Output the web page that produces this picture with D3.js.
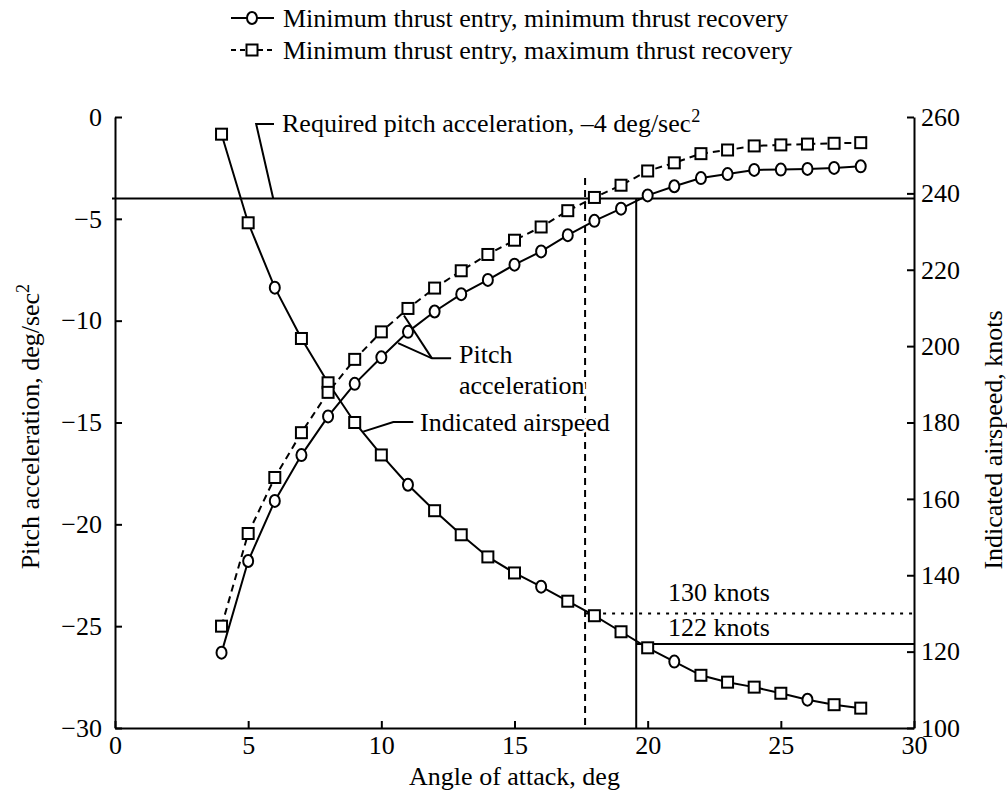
<!DOCTYPE html>
<html>
<head>
<meta charset="utf-8">
<script src="https://cdn.jsdelivr.net/npm/d3@7"></script>
<style>
  html, body { margin: 0; padding: 0; background: #fff; }
  svg { display: block; }
  text { font-family: "Liberation Serif", "Times New Roman", serif; fill: #000; }
  .knock { stroke: #fff; stroke-width: 5px; paint-order: stroke; stroke-linejoin: round; }
</style>
</head>
<body>
<svg id="chart" width="1007" height="801"></svg>
<script>
// ---------------- data ----------------
const angleOfAttack = [4,5,6,7,8,9,10,11,12,13,14,15,16,17,18,19,20,21,22,23,24,25,26,27,28];
// pitch acceleration, deg/sec^2 (left axis)
const pitchMinThrustRecovery = [-26.3,-21.8,-18.85,-16.6,-14.7,-13.1,-11.8,-10.55,-9.55,-8.7,-8.0,-7.25,-6.6,-5.8,-5.1,-4.5,-3.85,-3.4,-3.0,-2.8,-2.6,-2.58,-2.55,-2.5,-2.42];
const pitchMaxThrustRecovery = [-25.0,-20.45,-17.7,-15.5,-13.52,-11.9,-10.55,-9.4,-8.4,-7.55,-6.75,-6.05,-5.4,-4.6,-3.95,-3.35,-2.65,-2.25,-1.8,-1.62,-1.42,-1.37,-1.33,-1.29,-1.26];
// indicated airspeed, knots (right axis) - shared by both cases
const indicatedAirspeed = [255.5,232.3,215.3,202.0,190.4,180.0,171.5,163.7,156.9,150.6,144.8,140.6,137.0,133.2,129.4,125.2,121.0,117.4,113.8,112.0,110.7,109.1,107.4,106.1,105.2];
// which marker is visible on top for each airspeed point
const airspeedMarker = ["s","s","o","s","s","s","s","o","s","s","s","s","o","s","s","s","s","o","s","s","s","s","o","s","s"];

const xTicks = [0,5,10,15,20,25,30];
const leftTicks = [0,-5,-10,-15,-20,-25,-30];
const rightTicks = [260,240,220,200,180,160,140,120,100];

const seriesNames = ["Minimum thrust entry, minimum thrust recovery", "Minimum thrust entry, maximum thrust recovery"];

const requiredPitch = -4;
const aoaDashed = 17.65, aoaSolid = 19.57;
const knots130 = 130, knots122 = 122;

// ---------------- layout ----------------
const FS = 26;
const svg = d3.select("#chart");
const x = d3.scaleLinear().domain([0,30]).range([115,914]);
const yL = d3.scaleLinear().domain([-30,0]).range([728,117]);
const yR = d3.scaleLinear().domain([100,260]).range([728,117]);
const fmtMinus = d => d < 0 ? "\u2212" + Math.abs(d) : String(d);

// axes
const axB = d3.axisBottom(x).tickValues(xTicks).tickSizeInner(-7).tickSizeOuter(0).tickPadding(8);
const axL = d3.axisLeft(yL).tickValues(leftTicks).tickSizeInner(-7).tickSizeOuter(0).tickPadding(13).tickFormat(fmtMinus);
const axR = d3.axisRight(yR).tickValues(rightTicks).tickSizeInner(-7).tickSizeOuter(0).tickPadding(7);

function styleAxis(g) {
  g.attr("font-family", null);
  g.select(".domain").attr("stroke", "#000").attr("stroke-width", 2);
  g.selectAll(".tick line").attr("stroke", "#000").attr("stroke-width", 2);
  g.selectAll(".tick text").attr("font-size", FS).attr("fill", "#000");
}
svg.append("g").attr("transform", "translate(0,728)").call(axB).call(styleAxis);
svg.append("g").attr("transform", "translate(115,0)").call(axL).call(styleAxis);
svg.append("g").attr("transform", "translate(914,0)").call(axR).call(styleAxis);

// axis titles
svg.append("text").attr("x", x(15)).attr("y", 785).attr("text-anchor", "middle").attr("font-size", FS)
  .text("Angle of attack, deg");
const lt = svg.append("text").attr("transform", `translate(30,${yL(-15.2)}) rotate(-90)`).attr("dy", "0.35em")
  .attr("text-anchor", "middle").attr("font-size", FS);
lt.append("tspan").text("Pitch acceleration, deg/sec");
lt.append("tspan").attr("dy", -10).attr("font-size", FS*0.7).text("2");
svg.append("text").attr("transform", `translate(993,440) rotate(-90)`).attr("dy", "0.35em")
  .attr("text-anchor", "middle").attr("font-size", FS)
  .text("Indicated airspeed, knots");

// reference lines
const ref = svg.append("g").attr("stroke", "#000").attr("fill", "none");
ref.append("line").attr("x1", x(0) - 3).attr("x2", x(30)).attr("y1", yL(requiredPitch)).attr("y2", yL(requiredPitch)).attr("stroke-width", 2);
ref.append("line").attr("x1", x(aoaDashed)).attr("x2", x(aoaDashed)).attr("y1", yL(-3.0)).attr("y2", yL(-30)).attr("stroke-width", 2).attr("stroke-dasharray", "7,5");
ref.append("line").attr("x1", x(aoaSolid)).attr("x2", x(aoaSolid)).attr("y1", yL(requiredPitch)).attr("y2", yL(-30)).attr("stroke-width", 2);
ref.append("line").attr("x1", x(aoaDashed)).attr("x2", x(30)).attr("y1", yR(knots130)).attr("y2", yR(knots130)).attr("stroke-width", 2).attr("stroke-dasharray", "3,6");
ref.append("line").attr("x1", x(aoaSolid)).attr("x2", x(30)).attr("y1", yR(knots122)).attr("y2", yR(knots122)).attr("stroke-width", 2);

// annotation leaders (data coordinates)
const leader = d3.line().x(d => x(d[0])).y(d => yL(d[1]));
const leaderR = d3.line().x(d => x(d[0])).y(d => yR(d[1]));
ref.append("path").attr("stroke-width", 2).attr("d", leader([[5.97,-0.34],[5.3,-0.34],[5.94,-4.0]]));
ref.append("path").attr("stroke-width", 2).attr("d", leader([[12.62,-11.85],[11.9,-11.85],[10.63,-11.1]]));
ref.append("path").attr("stroke-width", 2).attr("d", leader([[11.9,-11.85],[10.85,-9.75]]));
ref.append("path").attr("stroke-width", 2).attr("d", leaderR([[11.2,180.1],[10.45,180.1],[9.32,177.6]]));

// annotation texts
const rt = svg.append("text").attr("class", "knock").attr("x", 282).attr("y", 132).attr("font-size", FS);
rt.append("tspan").text("Required pitch acceleration, \u20134 deg/sec");
rt.append("tspan").attr("dy", -10).attr("font-size", FS*0.7).text("2");
const pa = svg.append("text").attr("class", "knock").attr("font-size", FS);
pa.append("tspan").attr("x", 459).attr("y", 363).text("Pitch");
pa.append("tspan").attr("x", 459).attr("y", 394).text("acceleration");
svg.append("text").attr("class", "knock").attr("x", 420).attr("y", 431).attr("font-size", FS).text("Indicated airspeed");
svg.append("text").attr("class", "knock").attr("x", 668).attr("y", 601).attr("font-size", FS).text("130 knots");
svg.append("text").attr("class", "knock").attr("x", 668).attr("y", 636).attr("font-size", FS).text("122 knots");

// series
const lineL = d3.line().x((d,i) => x(angleOfAttack[i])).y(d => yL(d));
const lineR = d3.line().x((d,i) => x(angleOfAttack[i])).y(d => yR(d));
const plot = svg.append("g");
plot.append("path").attr("d", lineR(indicatedAirspeed)).attr("fill", "none").attr("stroke", "#000").attr("stroke-width", 2);
plot.append("path").attr("d", lineL(pitchMinThrustRecovery)).attr("fill", "none").attr("stroke", "#000").attr("stroke-width", 2);
plot.append("path").attr("d", lineL(pitchMaxThrustRecovery)).attr("fill", "none").attr("stroke", "#000").attr("stroke-width", 2).attr("stroke-dasharray", "7,5");

const R = 5.5, S = 11;
function circles(sel, data) {
  sel.selectAll(null).data(data).join("ellipse")
    .attr("cx", d => d[0]).attr("cy", d => d[1]).attr("rx", R - 0.5).attr("ry", R + 0.5)
    .attr("fill", "#fff").attr("stroke", "#000").attr("stroke-width", 2);
}
function squares(sel, data) {
  sel.selectAll(null).data(data).join("rect")
    .attr("x", d => d[0] - S/2).attr("y", d => d[1] - S/2).attr("width", S).attr("height", S)
    .attr("fill", "#fff").attr("stroke", "#000").attr("stroke-width", 2);
}
const asPts = indicatedAirspeed.map((v,i) => [x(angleOfAttack[i]), yR(v), airspeedMarker[i]]);
squares(plot.append("g"), asPts.filter(d => d[2] === "s"));
circles(plot.append("g"), asPts.filter(d => d[2] === "o"));
squares(plot.append("g"), pitchMaxThrustRecovery.map((v,i) => [x(angleOfAttack[i]), yL(v)]));
circles(plot.append("g"), pitchMinThrustRecovery.map((v,i) => [x(angleOfAttack[i]), yL(v)]));

// legend
const lg = svg.append("g");
const legRows = [{y: 18, dash: null, m: "o"}, {y: 50, dash: "5,4", m: "s"}];
legRows.forEach((r, i) => {
  lg.append("line").attr("x1", 231).attr("x2", 274).attr("y1", r.y).attr("y2", r.y)
    .attr("stroke", "#000").attr("stroke-width", 2).attr("stroke-dasharray", r.dash);
  if (r.m === "o") circles(lg.append("g"), [[252, r.y]]); else squares(lg.append("g"), [[252, r.y]]);
  lg.append("text").attr("x", 283).attr("y", r.y + 9).attr("font-size", FS).text(seriesNames[i]);
});
</script>
</body>
</html>
